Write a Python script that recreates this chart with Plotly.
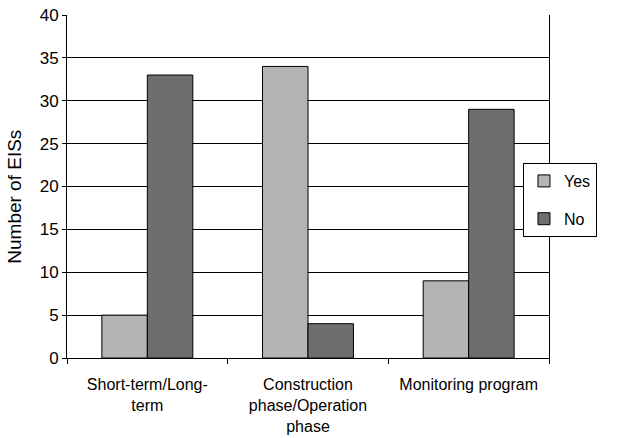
import plotly.graph_objects as go

categories = [
    "Short-term/Long-<br>term",
    "Construction<br>phase/Operation<br>phase",
    "Monitoring program",
]
yes_values = [5, 34, 9]
no_values = [33, 4, 29]
y_ticks = [0, 5, 10, 15, 20, 25, 30, 35, 40]
y_title = "Number of EISs"

FONT = "Liberation Sans, Arial, sans-serif"

fig = go.Figure()
fig.add_trace(go.Bar(
    name="Yes", x=categories, y=yes_values, legendgroup="yes",
    marker=dict(color="#b4b4b4", line=dict(color="#000000", width=1)),
))
fig.add_trace(go.Bar(
    name="No", x=categories, y=no_values, legendgroup="no",
    marker=dict(color="#6e6e6e", line=dict(color="#000000", width=1)),
))

fig.update_layout(
    width=621, height=438,
    margin=dict(l=67, r=72, t=15, b=80),
    paper_bgcolor="white", plot_bgcolor="white",
    font=dict(family=FONT, size=16, color="#000000"),
    barmode="group", bargap=0.434, bargroupgap=0,
    showlegend=True,
    legend=dict(
        x=0.946, y=0.5685, xanchor="left", yanchor="top",
        bordercolor="#000000", borderwidth=1, bgcolor="white",
        font=dict(family=FONT, size=16, color="#000000"),
        tracegroupgap=14, traceorder="grouped", itemwidth=30,
    ),
    # vertical axis title, placed a little below the plot's centre line
    annotations=[dict(
        text=y_title, textangle=-90,
        xref="paper", yref="paper", x=-0.108, y=0.47,
        xanchor="center", yanchor="middle", showarrow=False,
        font=dict(family=FONT, size=19, color="#000000"),
    )],
)
fig.update_xaxes(
    showline=True, linecolor="#000000", linewidth=1,
    ticks="outside", ticklen=5, tickcolor="#000000", tickson="boundaries",
    tickfont=dict(size=16), ticklabelstandoff=12,
    showgrid=False, automargin=False,
)
fig.update_yaxes(
    range=[0, 40], tickvals=y_ticks,
    showline=True, linecolor="#000000", linewidth=1, mirror=True,
    ticks="outside", ticklen=4, tickcolor="#000000",
    showgrid=True, gridcolor="#000000", gridwidth=1.3,
    zeroline=False, automargin=False,
    tickfont=dict(size=17),
)

fig.write_html("out.html")
